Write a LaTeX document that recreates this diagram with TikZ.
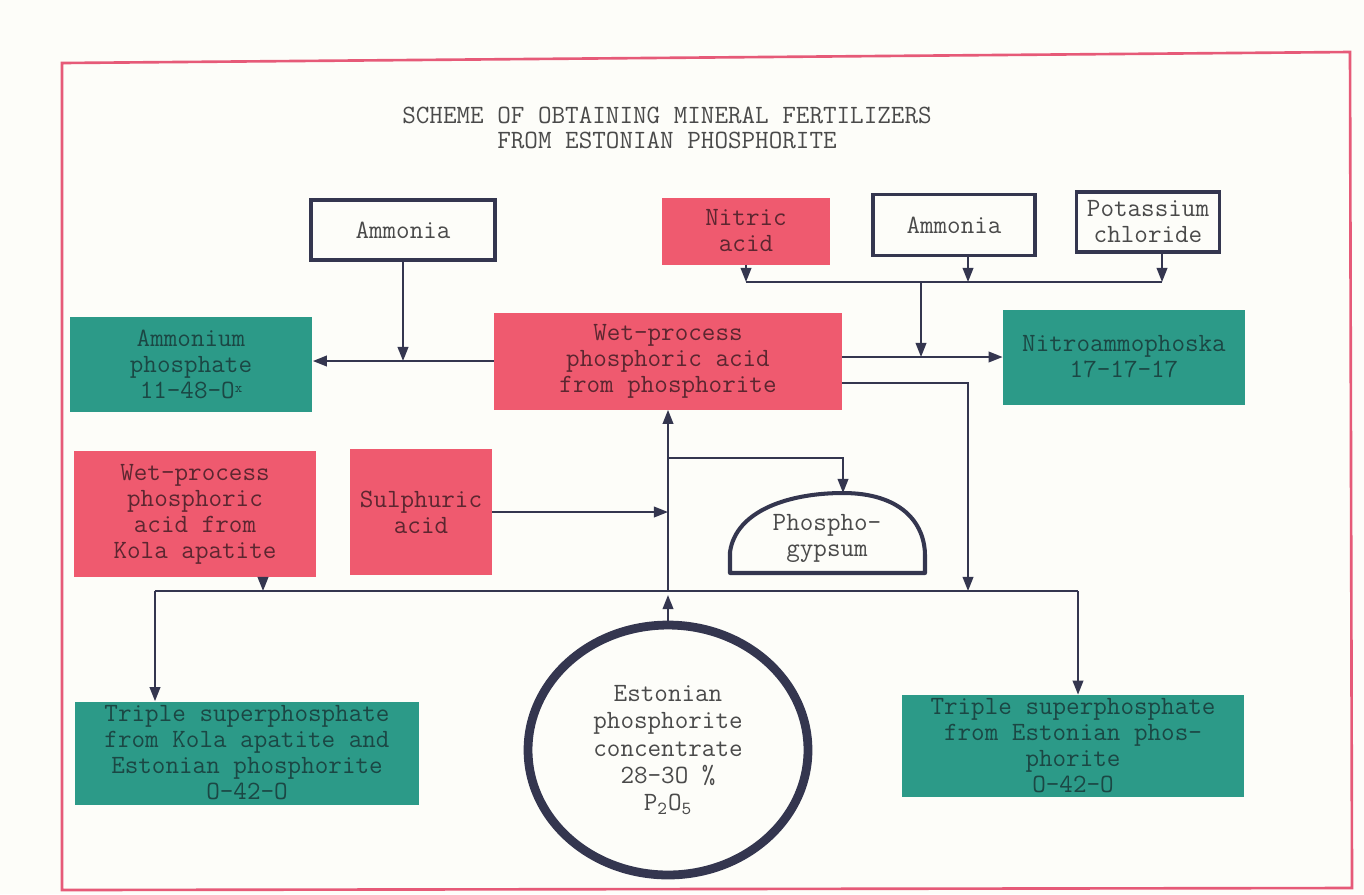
\documentclass[tikz,border=0pt]{standalone}
\usepackage{tikz}
\usetikzlibrary{
	calc,
	positioning,
	shapes.geometric,
	arrows.meta
}
\definecolor{paper}{HTML}{FDFDF9}
\definecolor{frame}{HTML}{E65A78}
\definecolor{acid}{HTML}{EF5A6F}
\definecolor{acidtext}{HTML}{5C2630}
\definecolor{prod}{HTML}{2C9A88}
\definecolor{prodtext}{HTML}{1B4744}
\definecolor{ink}{HTML}{34364F}
\definecolor{plaintext}{HTML}{4A4A4A}

\begin{document}
\begin{tikzpicture}[x=0.02cm,y=-0.02cm,
  font=\ttfamily\fontsize{15}{14.8}\selectfont,
  txt/.style={align=center,inner sep=0pt},
  sz/.style 2 args={minimum width=#1*0.2mm,minimum height=#2*0.2mm},
  redbox/.style={txt,fill=acid,text=acidtext},
  greenbox/.style={txt,fill=prod,text=prodtext},
  whitebox/.style={txt,draw=ink,line width=2.2pt,text=plaintext},
  flow/.style={draw=ink,line width=1.2pt,-{Triangle[length=8pt,width=6pt]}},
  bus/.style={draw=ink,line width=1.4pt},
]
\useasboundingbox (0,0) rectangle (1364,894);
\fill[paper] (0,0) rectangle (1364,894);
\draw[frame,line width=1.5pt] (62,63) -- (1350,52) -- (1352,888) -- (62,890) -- cycle;

% title
\node (title) [txt,text=plaintext,font=\ttfamily\fontsize{15}{14.5}\selectfont] at (667,128)
  {SCHEME OF OBTAINING MINERAL FERTILIZERS\\FROM ESTONIAN PHOSPHORITE};

% raw materials
\node (amm1) [whitebox,sz={184}{60}] at (403,230) {Ammonia};
\node (nit)  [redbox,sz={169}{67}]   at (746,231) {Nitric\\acid};
\node (amm2) [whitebox,sz={162}{61}] at (954,225) {Ammonia};
\node (kcl)  [whitebox,sz={143}{60}] at (1148,222) {Potassium\\chloride};
\node (sul)  [redbox,sz={142}{126}]  at (421,512) {Sulphuric\\acid};

% intermediates and products
\node (ap)   [greenbox,sz={243}{95}]  at (191,364) {Ammonium\\phosphate\\11-48-O\raisebox{0.45ex}{\footnotesize x}};
\node (wet)  [redbox,sz={348}{97}]    at (668,361) {Wet-process\\phosphoric acid\\from phosphorite};
\node (nap)  [greenbox,sz={242}{95}]  at (1124,357) {Nitroammophoska\\17-17-17};
\node (kola) [redbox,sz={243}{126}]   at (195,514) {Wet-process\\phosphoric\\acid from\\Kola apatite};
\node (tsl)  [greenbox,sz={345}{103}] at (247,753) {Triple superphosphate\\from Kola apatite and\\Estonian phosphorite\\O-42-O};
\node (tsr)  [greenbox,sz={343}{102}] at (1073,746) {Triple superphosphate\\from Estonian phos-\\phorite\\O-42-O};

% phosphogypsum heap
\draw[ink,line width=2.3pt,line join=round] (730,573) -- (730,552)
  .. controls (736,510) and (790,493) .. (843,493)
  .. controls (900,493) and (925,522) .. (925,556) -- (925,573) -- cycle;
\node (gyp) [txt,text=plaintext] at (827,538) {Phospho-\\gypsum};
\coordinate (gt) at (843,493);

% ore
\node (ore) [txt,ellipse,draw=ink,line width=5pt,text=plaintext,
  font=\ttfamily\fontsize{15}{15.5}\selectfont,sz={280}{250}] at (668,750)
  {Estonian\\phosphorite\\concentrate\\28-3O \%\\P\textsubscript{2}O\textsubscript{5}};

% junction points
\coordinate (b1) at (746,282);
\coordinate (a2) at (968,282);
\coordinate (a3) at (1162,282);
\coordinate (a4) at (921,282);
\coordinate (c1) at (968,383);
\coordinate (d1) at (155,591);
\coordinate (d2) at (1078,591);
\coordinate (d3) at (263,591);
\coordinate (e1) at (843,458);

% connectors
\draw[flow] (amm1) -- (amm1 |- wet.west);
\draw[flow] (wet.west) -- (wet.west -| ap.east);
\draw[flow] (nit) -- (b1);
\draw[flow] (amm2.south -| a2) -- (a2);
\draw[flow] (kcl.south -| a3) -- (a3);
\draw[bus] (b1) -- (a3);
\draw[flow] (a4) -- (a4 |- nap.west);
\draw[flow] (wet.east |- nap.west) -- (nap.west);
\draw[flow] (wet.east |- c1) -- (c1) -- (c1 |- d1);
\draw[bus] (d1) -- (d2);
\draw[flow] (d1) -- (d1 |- tsl.north);
\draw[flow] (d2) -- (d2 |- tsr.north);
\draw[flow] (kola.south -| d3) -- (d3);
\draw[flow] (ore.north) -- ($(ore.north |- d1)+(0,4)$);
\draw[flow] (ore.north |- d1) -- (wet.south);
\draw[flow] (sul.east) -- (sul.east -| wet.south);
\draw[flow] (wet.south |- e1) -- (e1) -- (gt);
\end{tikzpicture}
\end{document}
